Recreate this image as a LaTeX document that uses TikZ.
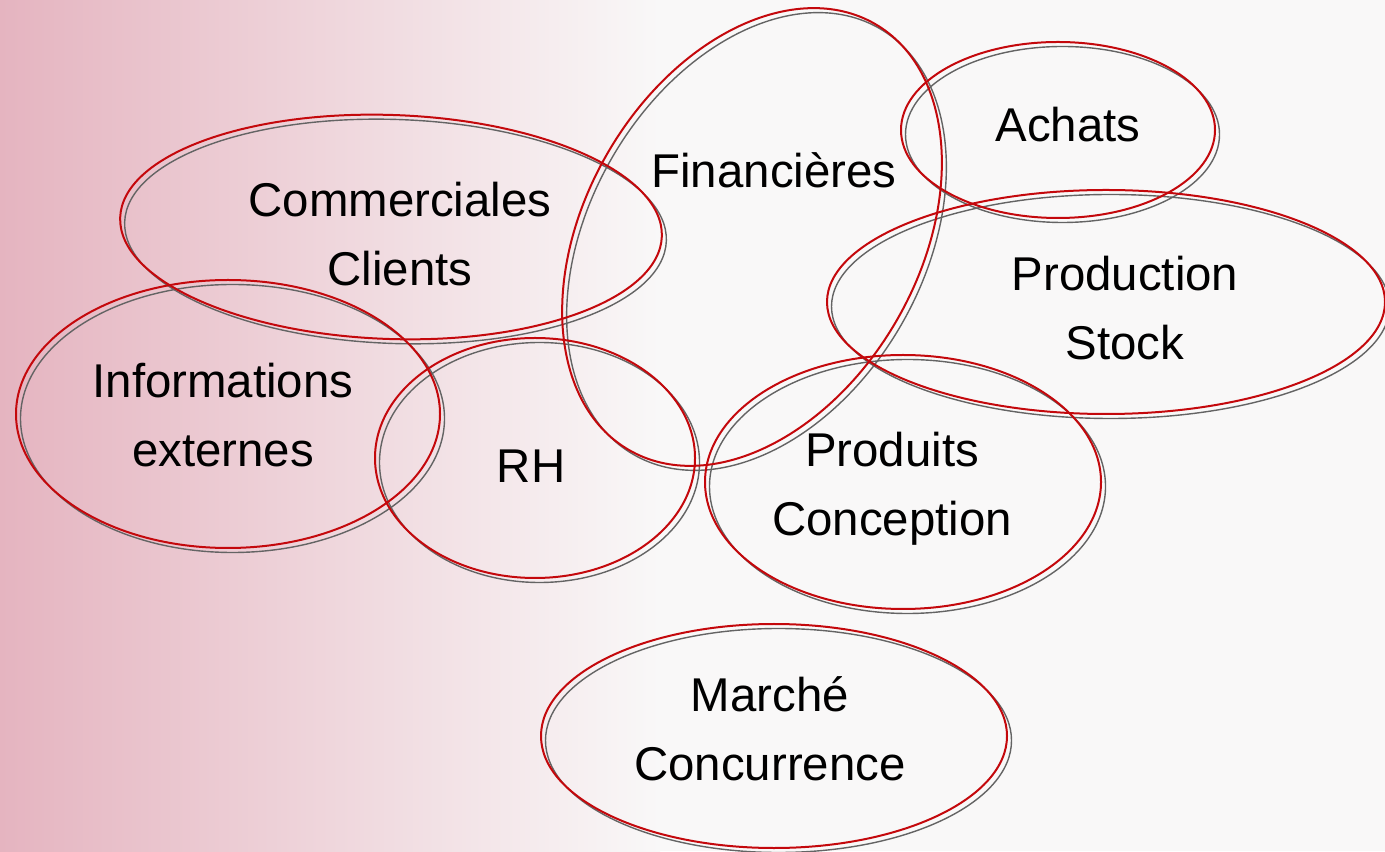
\documentclass[tikz,border=0pt]{standalone}
\usepackage{fontspec}
\setmainfont{Liberation Sans}
\definecolor{zonered}{RGB}{196,8,12}
\definecolor{shadowgray}{RGB}{100,100,100}
\definecolor{bgpink}{RGB}{229,180,192}
\definecolor{bgmid}{RGB}{230,208,212}
\definecolor{bgpage}{RGB}{249,248,248}
\begin{document}
\begin{tikzpicture}[x=0.5pt, y=0.5pt,
    zone/.style={draw=zonered, line width=1pt},
    ombre/.style={draw=shadowgray, line width=0.7pt},
    label/.style={font=\fontsize{23.7}{34.5}\selectfont, align=center, inner sep=0pt}]
    \useasboundingbox (0,0) rectangle (1385,851);

    % Draw background
    \fill[bgpage] (0,0) rectangle (1385,851);
    \shade[left color=bgpink, middle color=bgmid, right color=bgpage] (0,0) rectangle (660,851);

    % Draw shadows
    \begin{scope}[shift={(4.5,-4.5)}, ombre]
        \draw[rotate around={-2:(391,624)}] (391,624) ellipse [x radius=271, y radius=112];
        \draw[rotate around={60:(752,614)}] (752,614) ellipse [x radius=246, y radius=167];
        \draw (1058,721) ellipse [x radius=157, y radius=88];
        \draw (1106,549) ellipse [x radius=279, y radius=112];
        \draw (903,369) ellipse [x radius=198, y radius=127];
        \draw (535,393) ellipse [x radius=160, y radius=120];
        \draw (228,437) ellipse [x radius=212, y radius=134];
        \draw (774,115) ellipse [x radius=233, y radius=112];
    \end{scope}

    % Draw ellipses
    \draw[zone, rotate around={-2:(391,624)}] (391,624) ellipse [x radius=271, y radius=112];
    \draw[zone, rotate around={60:(752,614)}] (752,614) ellipse [x radius=246, y radius=167];
    \draw[zone] (1058,721) ellipse [x radius=157, y radius=88];
    \draw[zone] (1106,549) ellipse [x radius=279, y radius=112];
    \draw[zone] (903,369) ellipse [x radius=198, y radius=127];
    \draw[zone] (535,393) ellipse [x radius=160, y radius=120];
    \draw[zone] (228,437) ellipse [x radius=212, y radius=134];
    \draw[zone] (774,115) ellipse [x radius=233, y radius=112];

    % Draw labels
    \node[label] (commerciales) at (400,617) {Commerciales\\Clients};
    \node[label] (financieres) at (774,681) {Financières};
    \node[label] (achats) at (1068,726) {Achats};
    \node[label] (production) at (1125,543) {Production\\Stock};
    \node[label] (produits) at (892,362) {Produits\\Conception};
    \node[label] (rh) at (531,385) {RH};
    \node[label] (informations) at (223,436) {Informations\\externes};
    \node[label] (marche) at (770,122) {Marché\\Concurrence};
\end{tikzpicture}
\end{document}
